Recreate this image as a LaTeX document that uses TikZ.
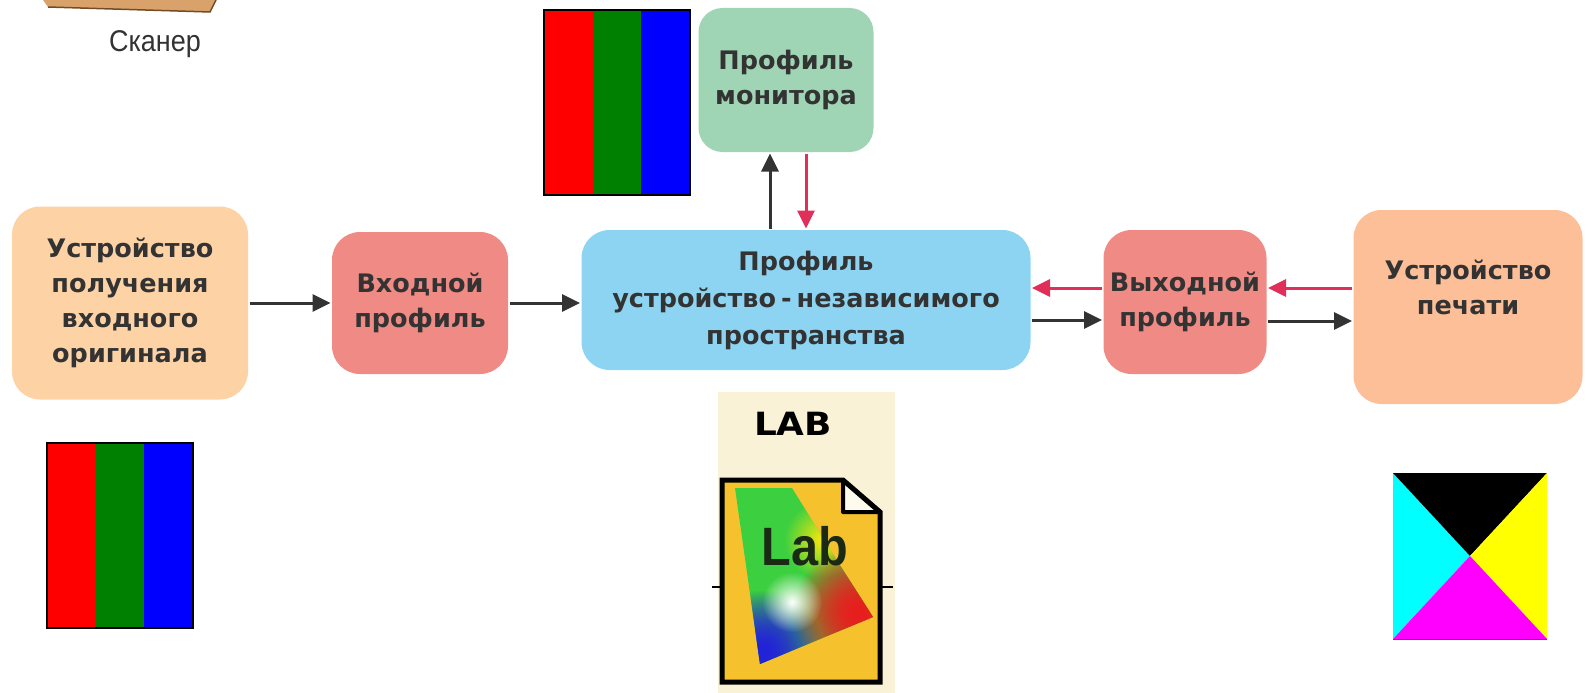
\documentclass[tikz,border=0pt]{standalone}
\usepackage{fontspec}
\setmainfont{DejaVu Sans}
\newfontfamily\narrowfont{Liberation Sans}
\usepackage{tikz}
\usetikzlibrary{arrows.meta,fadings}

\definecolor{peach}{HTML}{FDD3A6}
\definecolor{peachdark}{HTML}{FCBF98}
\definecolor{salmon}{HTML}{F08A84}
\definecolor{skyblue}{HTML}{8DD4F2}
\definecolor{mint}{HTML}{9FD5B5}
\definecolor{inkgray}{HTML}{333333}
\definecolor{crimson}{HTML}{E0305A}
\definecolor{gold}{HTML}{F5C22E}
\definecolor{cream}{HTML}{FAF2D6}
\definecolor{tan}{HTML}{D9A26B}
\definecolor{gamutgreen}{HTML}{3CD040}
\definecolor{gamutblue}{HTML}{2222D8}
\definecolor{gamutred}{HTML}{E81E1E}
\definecolor{labink}{HTML}{1A2A14}
\definecolor{inkcyan}{RGB}{0,255,255}
\definecolor{inkmagenta}{RGB}{255,0,255}
\definecolor{inkyellow}{RGB}{255,255,0}

\tikzfading[name=glow, inner color=transparent!0, outer color=transparent!100]

\begin{document}
\begin{tikzpicture}[x=1pt, y=-1pt,
	> = {Triangle[length=18pt,width=17pt]}, % arrow head style
	line width=3pt,
	box/.style={rectangle, rounded corners=28pt, inner sep=0pt, align=center,
		text=inkgray, font=\fontsize{25.5}{35}\selectfont\bfseries},
	fwd/.style={draw=inkgray, ->},
	back/.style={draw=crimson, ->}]
	\useasboundingbox (0,0) rectangle (1585,693);

	% scanner edge and caption
	\fill[tan] (43,0) -- (48,7) -- (210,12) -- (216,0) -- cycle;
	\draw[brown!60!black, line width=1.5pt] (48,7) -- (210,12) -- (216,0);
	\node[font=\narrowfont\fontsize{30}{32}\selectfont, text=inkgray, xscale=0.9] (scan) at (155,44) {Сканер};

	% profile chain
	\node[box, fill=peach, minimum width=236pt, minimum height=193pt] (dev) at (130,303) {Устройство\\получения\\входного\\оригинала};
	\node[box, fill=salmon, minimum width=176pt, minimum height=142pt] (inp) at (420,303) {Входной\\профиль};
	\node[box, fill=skyblue, minimum width=449pt, minimum height=140pt, font=\fontsize{25.5}{37}\selectfont\bfseries] (lab) at (806,300) {Профиль\\устройство\kern5pt-\kern5pt независимого\\пространства};
	\node[box, fill=mint, minimum width=175pt, minimum height=144pt, rounded corners=24pt] (mon) at (786,80) {Профиль\\монитора};
	\node[box, fill=salmon, minimum width=163pt, minimum height=144pt] (outp) at (1185,302) {Выходной\\профиль};
	\node[box, fill=peachdark, minimum width=229pt, minimum height=194pt, text depth=40pt] (prn) at (1468,307) {Устройство\\печати};

	\draw[fwd] (dev.east) -- (inp.west);
	\draw[fwd] (inp.east) -- (inp.east -| lab.west);
	\draw[fwd] ([xshift=-36pt]lab.north) -- ([xshift=-36pt]lab.north |- mon.south);
	\draw[back] (lab.north |- mon.south) -- (lab.north);
	\draw[fwd] ([yshift=-20pt]lab.east) -- ([yshift=-20pt]lab.east -| outp.west);
	\draw[back] ([yshift=12pt]lab.east -| outp.west) -- ([yshift=12pt]lab.east);
	\draw[fwd] ([yshift=-19pt]outp.east) -- ([yshift=-19pt]outp.east -| prn.west);
	\draw[back] ([yshift=14pt]outp.east -| prn.west) -- ([yshift=14pt]outp.east);

	% RGB strips
	\foreach \x/\y in {544/10, 47/443} {
		\fill[red] (\x,\y) rectangle ++(49,185);
		\fill[green!50!black] (\x+49,\y) rectangle ++(48,185);
		\fill[blue] (\x+97,\y) rectangle ++(49,185);
		\draw[line width=1.2pt] (\x,\y) rectangle ++(146,185);
	}

	% CMYK square
	\coordinate (cm) at (1470,556);
	\fill[inkcyan] (1393,473) -- (cm) -- (1393,639) -- cycle;
	\fill[black] (1393,473) -- (1547,473) -- (cm) -- cycle;
	\fill[inkyellow] (1547,473) -- (1547,639) -- (cm) -- cycle;
	\fill[inkmagenta] (1393,639) -- (1547,639) -- (cm) -- cycle;
	\draw[line width=1pt, black!70!magenta] (1393,639) -- (1547,639);

	% LAB file icon
	\fill[cream] (718,392) rectangle (895,693);
	\node[font=\bfseries\fontsize{32}{34}\selectfont, xscale=1.12] (labtitle) at (793,424) {LAB};
	\draw[line width=1.5pt] (712,587) -- (893,587);
	\fill[gold] (722,480) -- (843,480) -- (880,512) -- (880,682) -- (722,682) -- cycle;
	\begin{scope}
		\clip (735,488) -- (792,488) -- (838,562) -- (873,617) -- (760,664) -- cycle;
		\fill[gamutgreen] (725,485) rectangle (880,670);
		\fill[yellow!80!gold, path fading=glow] (822,540) circle (38);
		\foreach \i in {1,2} {
			\fill[gamutblue, path fading=glow] (762,652) circle (62);
			\fill[gamutred, path fading=glow] (858,612) circle (66);
		}
		\fill[white, path fading=glow] (792,602) circle (30);
	\end{scope}
	\filldraw[fill=white!92!gold, line width=4pt, line join=round] (843,480) -- (880,512) -- (843,512) -- cycle;
	\draw[line width=5pt, line join=miter] (722,480) -- (843,480) -- (880,512) -- (880,682) -- (722,682) -- cycle;
	\node[font=\narrowfont\bfseries\fontsize{54}{56}\selectfont, text=labink, xscale=0.9] (labtext) at (805,546) {Lab};

\end{tikzpicture}
\end{document}
